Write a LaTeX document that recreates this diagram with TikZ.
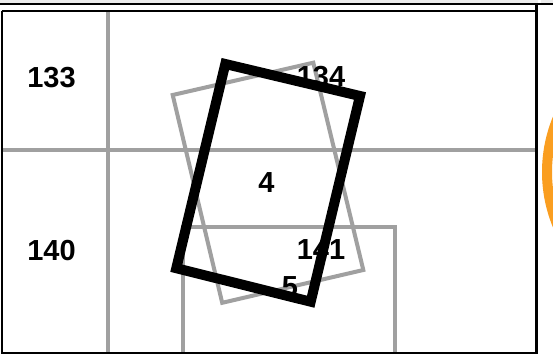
\documentclass[tikz,border=0pt]{standalone}
\usepackage{fontspec}
\setmainfont{Liberation Sans}
\definecolor{gridgray}{RGB}{160,160,160}
\definecolor{ringorange}{RGB}{250,158,32}
\definecolor{topband}{RGB}{236,236,236}
\tikzset{
  gridline/.style={draw=gridgray, line width=4pt},
  tile/.style={draw=gridgray, line width=4pt, line join=miter},
  focus/.style={draw=black, line width=10pt, line join=miter},
  frame/.style={draw=black, line width=2pt},
  lab/.style={font=\bfseries\fontsize{29}{29}\selectfont, inner sep=0pt, anchor=center}
}
\begin{document}
\begin{tikzpicture}[x=1pt,y=-1pt]
\useasboundingbox (0,0) rectangle (553,355);
\fill[white] (0,0) rectangle (553,355);
\fill[topband] (0,0) rectangle (553,3);
% orange ring, partly visible
\draw[ringorange, line width=10pt] (687,172) circle[radius=140];
\fill[white] (538,0) rectangle (541,355);
% grid
\draw[gridline] (108,11) -- (108,353);
\draw[gridline] (1,150) -- (536,150);
\draw[gridline] (183,353) -- (183,227) -- (395,227) -- (395,353);
% gray tilted tile
\draw[tile] (172.7,95) -- (313.3,62.7) -- (363.3,270) -- (222.2,302.8) -- cycle;
% labels
\node[lab] (l133) at (51.5,77.5) {133};
\node[lab] (l134) at (321,77) {134};
\node[lab] (l4) at (266.5,183) {4};
\node[lab] (l140) at (51.5,250.5) {140};
\node[lab] (l141) at (321,250) {141};
\node[lab] (l5) at (290,287) {5};
% black tilted tile
\draw[focus] (225.3,64) -- (360,96) -- (310.7,301.7) -- (176.3,268.2) -- cycle;
% frame
\draw[black, line width=2.3pt] (0,4.2) -- (553,4.2);
\draw[frame] (1.5,11.2) -- (536,11.2);
\draw[frame] (1.5,11.2) -- (1.5,353.3) -- (536,353.3);
\draw[black, line width=2.3pt] (536.5,4.2) -- (536.5,354);
\end{tikzpicture}
\end{document}
